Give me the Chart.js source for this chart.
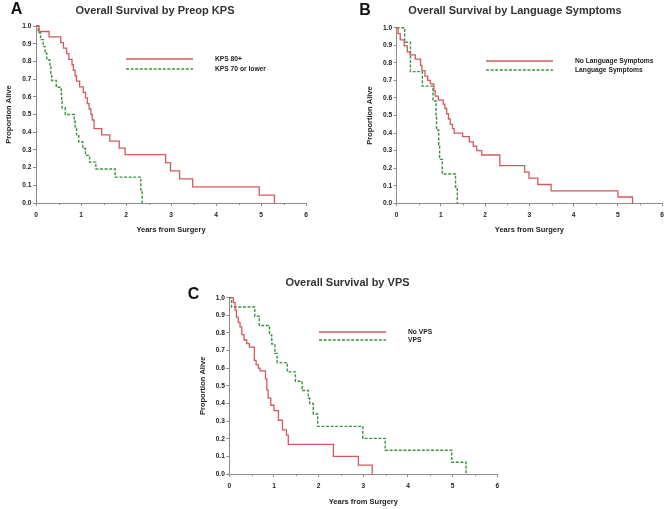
<!DOCTYPE html>
<html><head><meta charset="utf-8">
<script src="https://cdn.jsdelivr.net/npm/chart.js@4"></script>
<style>
html,body{margin:0;padding:0;background:#fff;}
#wrap{position:relative;width:669px;height:509px;overflow:hidden;background:#fff;font-family:"Liberation Sans",Arial,sans-serif;}
canvas{position:absolute;}
.lbl{position:absolute;transform:translate(-50%,-50%);white-space:nowrap;font-weight:bold;line-height:1;}
.letter{font-size:16px;color:#111;}
.ttl{font-size:11px;color:#333;}
</style></head>
<body><div id="wrap">
<canvas id="cA" width="330" height="240" style="left:0px;top:0px;width:330px;height:240px"></canvas>
<canvas id="cB" width="329" height="240" style="left:340px;top:0px;width:329px;height:240px"></canvas>
<canvas id="cC" width="339" height="239" style="left:170px;top:270px;width:339px;height:239px"></canvas>
<div class="lbl letter" style="left:16.5px;top:9px">A</div>
<div class="lbl ttl" style="left:155px;top:9.5px">Overall Survival by Preop KPS</div>
<div class="lbl letter" style="left:365px;top:9.5px">B</div>
<div class="lbl ttl" style="left:515px;top:10px">Overall Survival by Language Symptoms</div>
<div class="lbl letter" style="left:193.5px;top:294px">C</div>
<div class="lbl ttl" style="left:347.5px;top:282px">Overall Survival by VPS</div>
</div>
<script>
// ---------- DATA ----------
const xTickValues = [0, 1, 2, 3, 4, 5, 6];
const yTickValues = [0, 0.1, 0.2, 0.3, 0.4, 0.5, 0.6, 0.7, 0.8, 0.9, 1.0];
const xAxisTitle = 'Years from Surgery';
const yAxisTitle = 'Proportion Alive';

// Panel A: KPS
const kpsHighLabel = 'KPS 80+';
const kpsHighTimes = [0,0.07,0.29,0.55,0.61,0.68,0.73,0.80,0.83,0.87,0.90,0.97,1.05,1.10,1.14,1.18,1.22,1.25,1.29,1.46,1.64,1.85,1.98,2.88,2.99,3.19,3.48,4.96,5.30];
const kpsHighSurv  = [1,0.969,0.938,0.906,0.875,0.844,0.812,0.781,0.750,0.719,0.688,0.656,0.625,0.594,0.562,0.531,0.500,0.469,0.420,0.385,0.350,0.310,0.273,0.228,0.182,0.136,0.091,0.045,0];
const kpsLowLabel = 'KPS 70 or lower';
const kpsLowTimes = [0,0.05,0.10,0.16,0.20,0.24,0.31,0.33,0.35,0.45,0.56,0.57,0.58,0.65,0.85,0.87,0.90,0.95,1.04,1.10,1.19,1.33,1.76,2.33,2.36];
const kpsLowSurv  = [1,0.962,0.923,0.885,0.846,0.808,0.769,0.731,0.692,0.654,0.615,0.577,0.538,0.500,0.462,0.423,0.385,0.346,0.308,0.269,0.231,0.192,0.146,0.073,0];

// Panel B: Language symptoms
const langNoLabel = 'No Language Symptoms';
const langNoTimes = [0,0.03,0.08,0.17,0.24,0.30,0.42,0.54,0.57,0.64,0.70,0.76,0.84,0.87,0.94,1.05,1.09,1.13,1.17,1.21,1.26,1.30,1.49,1.64,1.73,1.81,1.92,2.33,2.89,2.99,3.19,3.49,5.00,5.33];
const langNoSurv  = [1,0.966,0.931,0.897,0.862,0.845,0.821,0.785,0.755,0.724,0.700,0.680,0.640,0.610,0.588,0.565,0.540,0.510,0.480,0.450,0.425,0.400,0.380,0.350,0.325,0.300,0.275,0.214,0.178,0.143,0.107,0.071,0.036,0];
const langYesLabel = 'Language Symptoms';
const langYesTimes = [0,0.18,0.31,0.58,0.82,0.89,0.90,0.95,0.97,1.03,1.33,1.37];
const langYesSurv  = [1,0.917,0.750,0.667,0.583,0.500,0.417,0.333,0.250,0.167,0.083,0];

// Panel C: VPS
const vpsNoLabel = 'No VPS';
const vpsNoTimes = [0,0.09,0.13,0.16,0.20,0.24,0.28,0.33,0.39,0.45,0.56,0.60,0.65,0.69,0.81,0.84,0.87,0.93,1.00,1.10,1.19,1.28,1.32,2.33,2.89,3.20];
const vpsNoSurv  = [1,0.972,0.930,0.890,0.860,0.835,0.790,0.760,0.740,0.720,0.645,0.620,0.600,0.585,0.540,0.476,0.430,0.390,0.360,0.305,0.250,0.220,0.168,0.100,0.050,0];
const vpsYesLabel = 'VPS';
const vpsYesTimes = [0,0.05,0.57,0.67,0.90,0.95,1.02,1.07,1.30,1.48,1.63,1.77,1.80,1.88,1.98,2.99,3.49,4.98,5.30];
const vpsYesSurv  = [1,0.947,0.895,0.842,0.789,0.737,0.684,0.632,0.579,0.526,0.474,0.430,0.400,0.340,0.270,0.202,0.135,0.067,0];

// ---------- STYLE ----------
const RED = '#d25a5f';
const GREEN = '#3e9142';
const AXIS = '#8c8c8c';
const FONT = '"Liberation Sans", Arial, sans-serif';

function pairs(t, s) { return t.map((v, i) => ({ x: v, y: s[i] })); }
function redSet(label, t, s) {
  return { label, data: pairs(t, s), borderColor: RED, borderWidth: 1.3, stepped: 'before', pointRadius: 0, fill: false, clip: 4 };
}
function greenSet(label, t, s) {
  return { label, data: pairs(t, s), borderColor: GREEN, borderWidth: 1.4, borderDash: [3, 1.6], stepped: 'before', pointRadius: 0, fill: false, clip: 4 };
}

const kmExtras = {
  id: 'kmExtras',
  afterDraw(chart, args, o) {
    const ctx = chart.ctx, xs = chart.scales.x;
    ctx.save();
    ctx.strokeStyle = AXIS; ctx.lineWidth = 1;
    for (let i = 0; i < xTickValues.length - 1; i++) {
      const v = (xTickValues[i] + xTickValues[i + 1]) / 2;
      const px = Math.round(xs.getPixelForValue(v)) + 0.5;
      ctx.beginPath(); ctx.moveTo(px, xs.top); ctx.lineTo(px, xs.top + 2); ctx.stroke();
    }
    chart.data.datasets.forEach((ds, i) => {
      const y = o.y + i * o.dy;
      ctx.strokeStyle = ds.borderColor; ctx.lineWidth = ds.borderWidth;
      ctx.setLineDash(ds.borderDash || []);
      ctx.beginPath(); ctx.moveTo(o.x1, y); ctx.lineTo(o.x2, y); ctx.stroke();
      ctx.setLineDash([]);
      ctx.fillStyle = '#222'; ctx.font = 'bold 6.7px ' + FONT;
      ctx.textBaseline = 'middle'; ctx.textAlign = 'left';
      ctx.fillText(ds.label, o.tx, y);
    });
    ctx.restore();
  }
};

// page-coordinate geometry for each panel
function makePanel(id, canvasBox, plot, yTitleX, xTitleY, legend, datasets) {
  const yW = plot.l - canvasBox.left;
  const xH = canvasBox.top + canvasBox.h - plot.b;
  const tFont = { family: FONT, size: 7.5, weight: 'bold' };
  const tickFont = { family: FONT, size: 6.6, weight: 'bold' };
  new Chart(document.getElementById(id), {
    type: 'line',
    data: { datasets },
    options: {
      responsive: false, animation: false, events: [],
      layout: { padding: { left: 0, top: plot.t - canvasBox.top, right: canvasBox.left + canvasBox.w - plot.r, bottom: 0 } },
      plugins: {
        legend: { display: false }, tooltip: { enabled: false }, title: { display: false },
        kmExtras: {
          x1: legend.x1 - canvasBox.left, x2: legend.x2 - canvasBox.left,
          y: legend.y - canvasBox.top, dy: legend.dy, tx: legend.tx - canvasBox.left
        }
      },
      scales: {
        x: {
          type: 'linear', min: 0, max: 6, offset: false,
          afterBuildTicks: s => { s.ticks = xTickValues.map(v => ({ value: v })); },
          afterFit: s => { s.height = xH; },
          ticks: { font: tickFont, color: '#222', padding: 5, maxRotation: 0, autoSkip: false, callback: v => String(v) },
          grid: { drawOnChartArea: false, drawTicks: true, tickLength: 3, color: AXIS, tickColor: AXIS },
          border: { display: true, color: AXIS, width: 1 },
          title: { display: true, text: xAxisTitle, font: tFont, color: '#222',
                   padding: { top: 0, bottom: canvasBox.h - (xTitleY - canvasBox.top) - 4.5 } }
        },
        y: {
          type: 'linear', min: 0, max: 1,
          afterBuildTicks: s => { s.ticks = yTickValues.map(v => ({ value: v })); },
          afterFit: s => { s.width = yW; },
          ticks: { font: tickFont, color: '#222', padding: 1.5, autoSkip: false, callback: v => v.toFixed(1) },
          grid: { drawOnChartArea: false, drawTicks: true, tickLength: 3, color: AXIS, tickColor: AXIS },
          border: { display: true, color: AXIS, width: 1 },
          title: { display: true, text: yAxisTitle, font: tFont, color: '#222',
                   padding: { top: (yTitleX - canvasBox.left) - 4.5, bottom: 0 } }
        }
      }
    },
    plugins: [kmExtras]
  });
}

makePanel('cA', { left: 0, top: 0, w: 330, h: 240 }, { l: 36, t: 26, r: 306, b: 203 }, 9, 230,
  { x1: 126, x2: 193, y: 59, dy: 10, tx: 215 },
  [redSet(kpsHighLabel, kpsHighTimes, kpsHighSurv), greenSet(kpsLowLabel, kpsLowTimes, kpsLowSurv)]);

makePanel('cB', { left: 340, top: 0, w: 329, h: 240 }, { l: 396.7, t: 27.7, r: 663.3, b: 203.3 }, 369.5, 230,
  { x1: 486, x2: 553, y: 61, dy: 9, tx: 575 },
  [redSet(langNoLabel, langNoTimes, langNoSurv), greenSet(langYesLabel, langYesTimes, langYesSurv)]);

makePanel('cC', { left: 170, top: 270, w: 339, h: 239 }, { l: 229.3, t: 297.7, r: 497.3, b: 474 }, 202.7, 501.7,
  { x1: 319, x2: 386, y: 332, dy: 8, tx: 408 },
  [redSet(vpsNoLabel, vpsNoTimes, vpsNoSurv), greenSet(vpsYesLabel, vpsYesTimes, vpsYesSurv)]);
</script>
</body></html>
